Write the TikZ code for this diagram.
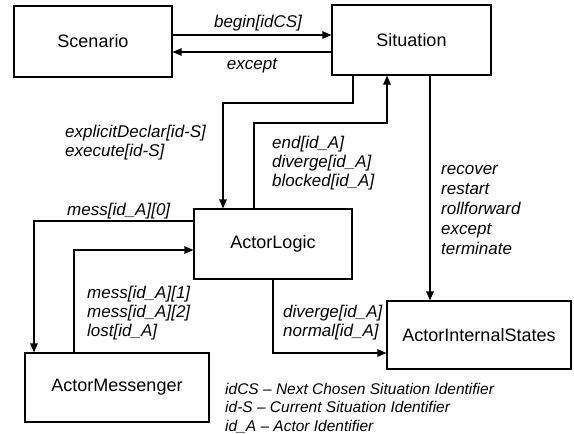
\documentclass[tikz,border=0pt]{standalone}
\usepackage{fontspec}
\setmainfont{Liberation Sans}
\usetikzlibrary{arrows.meta}
\begin{document}
\begin{tikzpicture}[x=1pt,y=-1pt,
  box/.style={draw,line width=1.2pt,inner sep=0pt,font=\fontsize{18}{21}\selectfont},
  arr/.style={line width=1.2pt,-{Triangle[length=9pt,width=7.5pt]}},
  lbl/.style={inner sep=0pt,align=left,font=\fontsize{17}{19}\selectfont\itshape}]
\useasboundingbox (0,0) rectangle (574,434);

% boxes
\node[box,minimum width=158pt,minimum height=71pt] (scen) at (93,41.5) {Scenario};
\node[box,minimum width=159pt,minimum height=70pt] (sit) at (411.5,40) {Situation};
\node[box,minimum width=158pt,minimum height=70pt] (logic) at (273,244) {ActorLogic};
\node[box,minimum width=184pt,minimum height=69pt] (mess) at (117,387.5) {ActorMessenger};
\node[box,minimum width=184pt,minimum height=68pt] (ais) at (479,335) {ActorInternalStates};

% connectors
\draw[arr] (scen.east |- 0,35) -- (sit.west |- 0,35);
\draw[arr] (sit.west |- 0,52) -- (scen.east |- 0,52);
\draw[arr] (sit.south -| 353,0) |- (223,103) -- (logic.north -| 223,0);
\draw[arr] (logic.north -| 254,0) |- (387,123) -- (sit.south -| 387,0);
\draw[arr] (sit.south -| 430,0) -- (ais.north -| 430,0);
\draw[arr] (logic.south -| 273,0) |- (ais.west |- 0,353);
\draw[arr] (logic.west |- 0,221) -| (mess.north -| 34,0);
\draw[arr] (mess.north -| 74,0) |- (logic.west |- 0,250);

% labels (multi-line nodes are placed by the baseline of their last line)
\node[lbl,anchor=base] (lbegin) at (258,27.5) {begin[idCS]};
\node[lbl,anchor=base] (lexc) at (252,69.5) {except};
\node[lbl,anchor=base west] (lexec) at (65,156) {explicitDeclar[id-S]\\execute[id-S]};
\node[lbl,anchor=base west] (lend) at (272,186) {end[id\_A]\\diverge[id\_A]\\blocked[id\_A]};
\node[lbl,anchor=base west] (lm0) at (67,215.5) {mess[id\_A][0]};
\node[lbl,anchor=base west] (lm1) at (87,336) {mess[id\_A][1]\\mess[id\_A][2]\\lost[id\_A]};
\node[lbl,anchor=base west] (ldiv) at (283,336) {diverge[id\_A]\\normal[id\_A]};
\node[lbl,anchor=base west,font=\fontsize{17}{20}\selectfont\itshape] (lrec) at (441,254.5) {recover\\restart\\rollforward\\except\\terminate};
\node[lbl,anchor=base west,font=\fontsize{15.5}{18.5}\selectfont\itshape] (legend) at (225,431) {idCS – Next Chosen Situation Identifier\\id-S – Current Situation Identifier\\id\_A – Actor Identifier};
\end{tikzpicture}
\end{document}
